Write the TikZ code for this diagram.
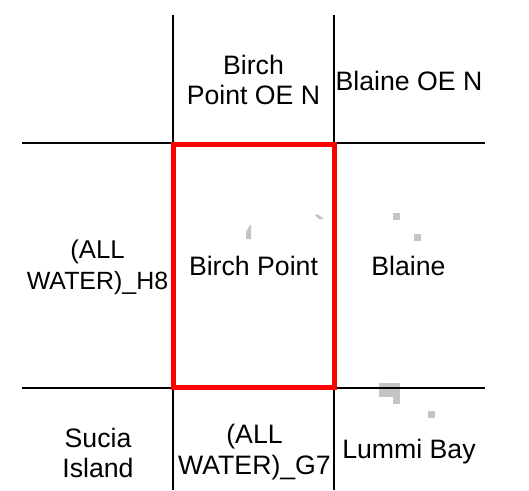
\documentclass[tikz,border=0pt]{standalone}
\usepackage{fontspec}
\setmainfont{Liberation Sans}
\tikzset{
  px/.style={x=0.75pt,y=-0.75pt},
  gridline/.style={draw=black,line width=1.5pt},
  frame/.style={draw=red,line width=3.75pt,line join=miter},
  blob/.style={fill=black!23,draw=none},
  lbl/.style={font=\fontsize{20pt}{23pt}\selectfont,align=center,inner sep=0pt,text=black}
}
\begin{document}
\begin{tikzpicture}[px]
\useasboundingbox (0,0) rectangle (529,490);
% built-up patches
\fill[blob] (393,213) rectangle (400,220);
\fill[blob] (414,234) rectangle (421,241);
\fill[blob] (379,383) rectangle (393,397);
\fill[blob] (393,383) rectangle (400,404);
\fill[blob] (428,411) rectangle (435,418);
\fill[blob] (246,239) -- (246,232) -- (250,225) -- (251,225) -- (251,239) -- cycle;
\fill[blob] (315,215) -- (317,214) -- (323,218) -- (323,219) -- (319,219) -- cycle;
% grid
\coordinate (v1t) at (173,15);
\coordinate (v1b) at (173,490);
\coordinate (v2t) at (334,15);
\coordinate (v2b) at (334,490);
\coordinate (h1l) at (22,143);
\coordinate (h1r) at (485,143);
\coordinate (h2l) at (22,388);
\coordinate (h2r) at (485,388);
\draw[gridline] (v1t) -- (v1b);
\draw[gridline] (v2t) -- (v2b);
\draw[gridline] (h1l) -- (h1r);
\draw[gridline] (h2l) -- (h2r);
% selected quad
\draw[frame] (173.5,144) rectangle (334,387.5);
% labels
\node[lbl] (n) at (253.5,80) {Birch\\Point OE N};
\node[lbl] (ne) at (409,81) {Blaine OE N};
\node[lbl] (w) at (97.5,267) {\fontsize{19.3pt}{23pt}\selectfont (ALL\\\fontsize{18.7pt}{23pt}\selectfont WATER)\_H8};
\node[lbl] (c) at (253.5,266) {Birch Point};
\node[lbl] (e) at (408.5,266) {Blaine};
\node[lbl] (sw) at (98,453) {Sucia\\Island};
\node[lbl] (s) at (254.5,452) {(ALL\\WATER)\_G7};
\node[lbl] (se) at (409,452) {Lummi Bay};
\end{tikzpicture}
\end{document}
